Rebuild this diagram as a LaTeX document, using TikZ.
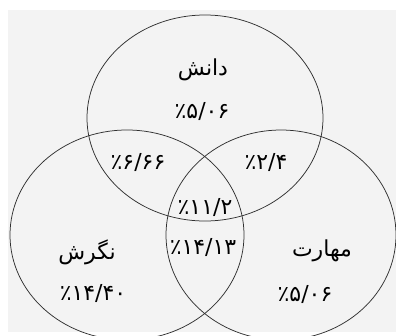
\documentclass[tikz,border=0pt]{standalone}
\usepackage{fontspec}
\newfontfamily\persianfont[Script=Arabic]{DejaVu Sans}
\TeXXeTstate=1
\definecolor{bgpaper}{HTML}{F3F3F3}
\definecolor{rimgray}{HTML}{303030}

\begin{document}
\begin{tikzpicture}[x=1pt,y=-1pt,
  set/.style={draw=rimgray,line width=0.75pt},
  title/.style={font=\persianfont\fontsize{22}{26}\selectfont},
  share/.style={font=\persianfont\fontsize{22}{26}\selectfont}]
  \useasboundingbox (0,0) rectangle (396,335);
  \clip (0,0) rectangle (396,335);
  \fill[bgpaper] (8,10) rectangle (396,332);
  % three sets
  \coordinate (knowC) at (205,118);
  \coordinate (viewC) at (127,235);
  \coordinate (skillC) at (281,235);
  \draw[set] (knowC) ellipse [x radius=118, y radius=103];
  \draw[set] (viewC) ellipse [x radius=117, y radius=105];
  \draw[set] (skillC) ellipse [x radius=115, y radius=105];
  % names and shares
  \node[title] (know) at (203,70) {\beginR دانش\endR};
  \node[share] (knowP) at (202,111) {٪۵/۰۶};
  \node[title] (view) at (87,252) {\beginR نگرش\endR};
  \node[share] (viewP) at (93,293) {٪۱۴/۴۰};
  \node[title] (skill) at (322,251) {\beginR مهارت\endR};
  \node[share] (skillP) at (305,294) {٪۵/۰۶};
  % overlaps
  \node[share] (knowView) at (138,162) {٪۶/۶۶};
  \node[share] (knowSkill) at (266,162) {٪۲/۴};
  \node[share] (all) at (205,207) {٪۱۱/۲};
  \node[share] (viewSkill) at (203,247) {٪۱۴/۱۳};
\end{tikzpicture}
\end{document}
